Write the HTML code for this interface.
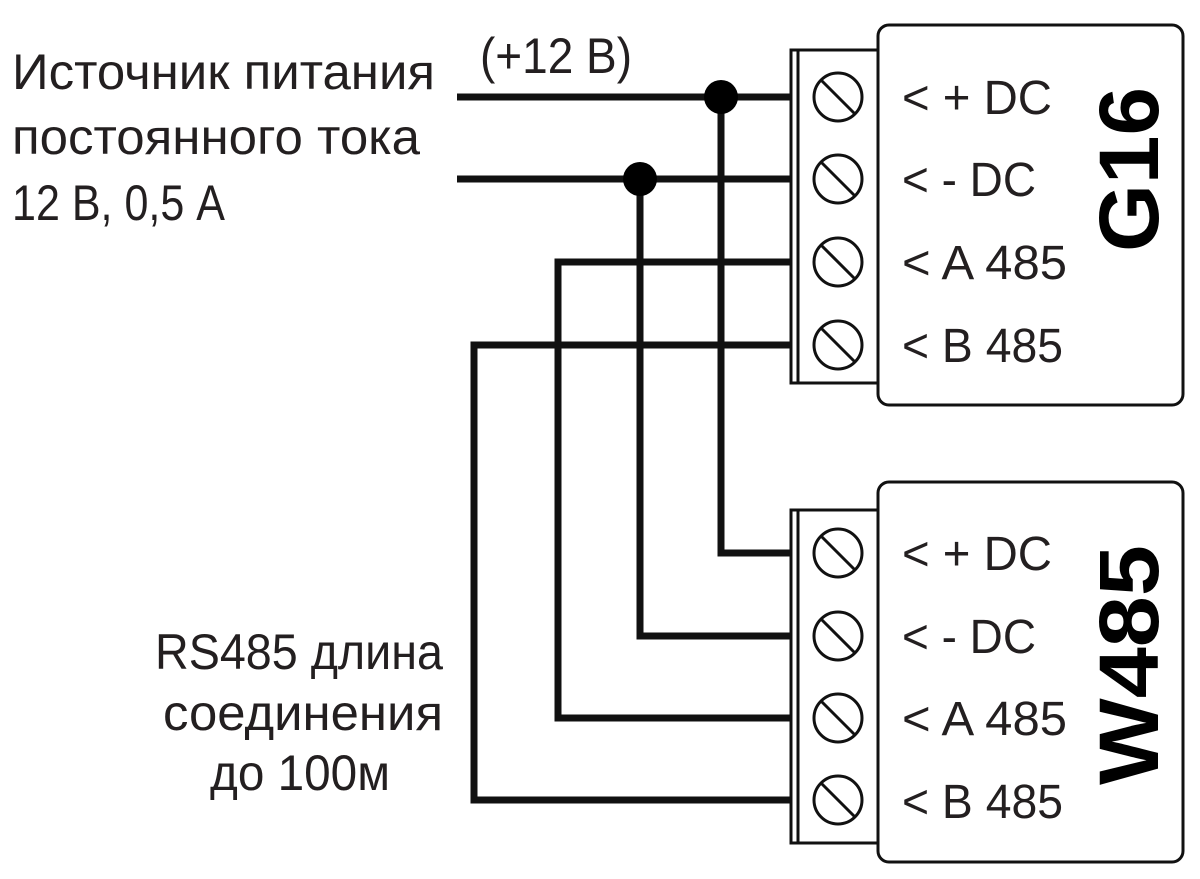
<!DOCTYPE html>
<html><head><meta charset="utf-8"><style>html,body{margin:0;padding:0;background:#fff}svg{display:block}</style></head>
<body>
<svg width="1200" height="879" viewBox="0 0 1200 879" xmlns="http://www.w3.org/2000/svg" font-family="'Liberation Sans', sans-serif" fill="#231f20">
<g stroke="#111" stroke-width="7" fill="none" stroke-linecap="butt">
<path d="M457 97H791"/>
<path d="M457 179H791"/>
<path d="M721 97V553H791"/>
<path d="M640 179V636H791"/>
<path d="M791 262H558V718H791"/>
<path d="M791 345H474V800H791"/>
</g>
<circle cx="721" cy="97" r="17" fill="#000"/>
<circle cx="640" cy="179" r="17" fill="#000"/>
<g stroke="#111" stroke-width="3" fill="#fff">
<rect x="878" y="25" width="305" height="380" rx="11"/>
<rect x="791" y="50" width="87" height="333"/>
<line x1="798" y1="50" x2="798" y2="383"/>
<rect x="878" y="482" width="305" height="380" rx="11"/>
<rect x="791" y="510" width="87" height="333"/>
<line x1="798" y1="510" x2="798" y2="843"/>
</g>
<g stroke="#111" stroke-width="3" fill="none">
<g id="s"><circle cx="838" cy="97" r="24"/><line x1="821" y1="80" x2="855" y2="114"/></g>
<use href="#s" y="82"/><use href="#s" y="165"/><use href="#s" y="248"/>
<use href="#s" y="456"/><use href="#s" y="539"/><use href="#s" y="621"/><use href="#s" y="703"/>
</g>
<g font-size="48">
<text x="902" y="114" textLength="150" lengthAdjust="spacingAndGlyphs">&lt; + DC</text>
<text x="902" y="196" textLength="134" lengthAdjust="spacingAndGlyphs">&lt; - DC</text>
<text x="902" y="279" textLength="165" lengthAdjust="spacingAndGlyphs">&lt; A 485</text>
<text x="902" y="362" textLength="161" lengthAdjust="spacingAndGlyphs">&lt; B 485</text>
<text x="902" y="570" textLength="150" lengthAdjust="spacingAndGlyphs">&lt; + DC</text>
<text x="902" y="653" textLength="134" lengthAdjust="spacingAndGlyphs">&lt; - DC</text>
<text x="902" y="735" textLength="165" lengthAdjust="spacingAndGlyphs">&lt; A 485</text>
<text x="902" y="818" textLength="161" lengthAdjust="spacingAndGlyphs">&lt; B 485</text>
</g>
<g font-weight="bold" font-size="84" fill="#000">
<text transform="translate(1158 252) rotate(-90)" textLength="165" lengthAdjust="spacingAndGlyphs">G16</text>
<text transform="translate(1158 785) rotate(-90)" textLength="240" lengthAdjust="spacingAndGlyphs">W485</text>
</g>
<g font-size="50">
<text x="12" y="89" textLength="423" lengthAdjust="spacingAndGlyphs">Источник питания</text>
<text x="12" y="154" textLength="408" lengthAdjust="spacingAndGlyphs">постоянного тока</text>
<text x="12" y="220" textLength="213" lengthAdjust="spacingAndGlyphs">12 В, 0,5 А</text>
<text x="480" y="73" textLength="152" lengthAdjust="spacingAndGlyphs">(+12 В)</text>
<text x="155" y="669" textLength="288" lengthAdjust="spacingAndGlyphs">RS485 длина</text>
<text x="163" y="730" textLength="280" lengthAdjust="spacingAndGlyphs">соединения</text>
<text x="210" y="790" textLength="180" lengthAdjust="spacingAndGlyphs">до 100м</text>
</g>
</svg>
</body></html>
